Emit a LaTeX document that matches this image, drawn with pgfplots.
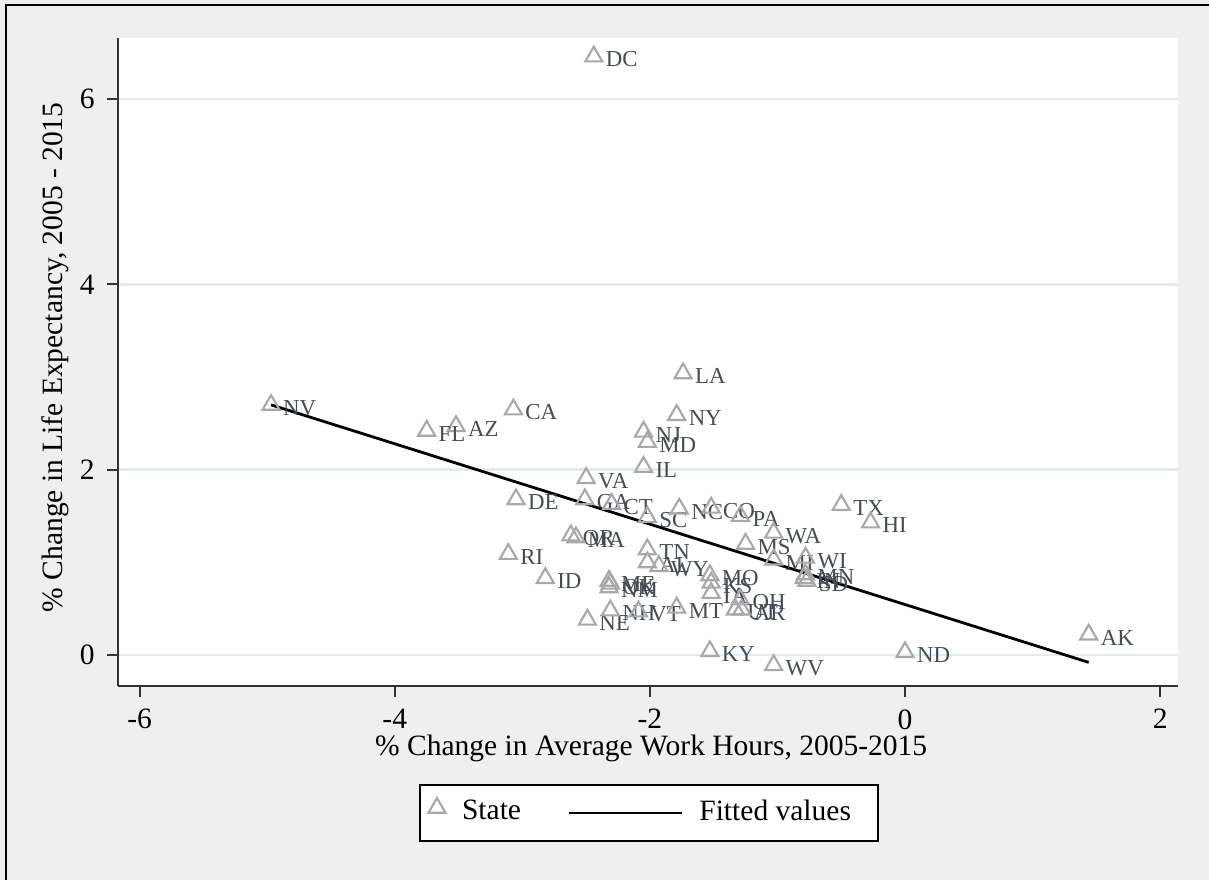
\documentclass[border=0pt]{standalone}
\usepackage{pgfplots}
\pgfplotsset{compat=1.18}
\usepackage{pgfplotstable}
\usepackage{fontspec}
\setmainfont{Liberation Serif}
\definecolor{bggray}{RGB}{239,239,239}
\definecolor{mkgray}{RGB}{168,168,168}
\definecolor{lblcol}{RGB}{70,76,86}
\definecolor{gridcol}{RGB}{226,236,240}
\definecolor{axcol}{RGB}{50,50,50}
\pgfplotstableread{
x y lab
-2.44 6.46 DC
-1.74 3.04 LA
-1.79 2.59 NY
-2.05 2.41 NJ
-2.02 2.30 MD
-2.05 2.03 IL
-4.97 2.70 NV
-3.07 2.65 CA
-3.52 2.47 AZ
-3.75 2.42 FL
-2.50 1.91 VA
-3.05 1.68 DE
-2.51 1.68 GA
-2.30 1.63 CT
-2.02 1.49 SC
-1.77 1.58 NC
-1.52 1.59 CO
-1.29 1.50 PA
-1.03 1.32 WA
-1.25 1.20 MS
-0.50 1.62 TX
-0.27 1.43 HI
-1.03 1.03 MI
-0.78 1.05 WI
-0.78 0.87 MN
-0.77 0.80 SD
-0.79 0.83 IN
1.44 0.22 AK
0.00 0.03 ND
-1.53 0.04 KY
-1.03 -0.11 WV
-3.11 1.09 RI
-2.82 0.83 ID
-2.49 0.38 NE
-2.31 0.48 NH
-2.09 0.47 VT
-1.79 0.51 MT
-2.02 1.14 TN
-2.02 1.00 AL
-1.93 0.96 WY
-2.32 0.80 ME
-2.32 0.73 NM
-2.31 0.77 OK
-2.62 1.29 OR
-2.58 1.27 MA
-1.53 0.86 MO
-1.52 0.78 KS
-1.52 0.67 IA
-1.29 0.60 OH
-1.33 0.49 UT
-1.28 0.49 AR
}\statedata
\pgfplotstableread{
x y
-4.97 2.70
1.44 -0.08
}\fitdata
\begin{document}
\begin{tikzpicture}[x=1cm,y=1cm]
\useasboundingbox (0,0) rectangle (12.09,8.80);
\fill[bggray] (0,0) rectangle (12.09,8.80);
\draw[black, line width=0.6pt] (0.06,0) -- (0.06,8.75) -- (12.09,8.75);
\begin{axis}[
  at={(1.18cm,1.94cm)}, anchor=south west,
  scale only axis, width=10.60cm, height=6.48cm,
  xmin=-6.17, xmax=2.14, ymin=-0.335, ymax=6.66,
  axis x line*=bottom, axis y line*=left,
  axis line style={axcol, line width=0.7pt},
  axis background/.style={fill=white},
  xtick={-6,-4,-2,0,2}, xticklabels={-6,-4,-2,0,2},
  ytick={0,2,4,6}, yticklabels={0,2,4,6},
  tick align=outside, major tick length=0.11cm,
  tick style={axcol, line width=0.6pt},
  ymajorgrids, grid style={gridcol, line width=0.7pt},
  every tick label/.append style={font=\fontsize{8.4}{10}\selectfont, text=black},
  xlabel={\% Change in Average Work Hours, 2005-2015},
  ylabel={\% Change in Life Expectancy, 2005 - 2015},
  label style={font=\fontsize{8.4}{10}\selectfont},
  xlabel style={at={(axis description cs:0.503,-0.0957)}, anchor=center},
  ylabel style={at={(axis description cs:-0.0594,0.507)}, anchor=center},
  legend style={at={(0.501,-0.151)}, anchor=north, draw=black, fill=white,
    line width=0.6pt, inner xsep=0.05cm, inner ysep=0.08cm,
    font=\fontsize{8.4}{10}\selectfont, legend columns=2,
    /tikz/every even column/.append style={column sep=0.40cm}},
  legend cell align=left,
  clip=false,
]
\addlegendimage{legend image code/.code={\path[draw=none,fill=none] (0cm,0cm) -- (0.30cm,0cm); \begin{scope}[shift={(0.12cm,0.05cm)}, draw=mkgray, line width=0.6pt]\pgfsetstrokecolor{mkgray}\pgfsetplotmarksize{2.8pt}\pgfuseplotmark{triangle}\end{scope}}}
\addlegendentry{State}
\addlegendimage{legend image code/.code={\path[draw=none,fill=none] (0cm,0cm) -- (1.23cm,0cm); \draw[black, line width=0.7pt] (0cm,0cm) -- (1.13cm,0cm);}}
\addlegendentry{Fitted values\rule{0.15cm}{0pt}}
\addplot[forget plot, only marks, mark=triangle, mark size=2.8pt, mkgray,
  mark options={line width=0.6pt},
  nodes near coords, point meta=explicit symbolic,
  nodes near coords style={anchor=west, inner sep=0pt, xshift=0.11cm, yshift=-0.03cm,
    font=\fontsize{6.5}{7}\selectfont, text=lblcol}]
  table[x=x, y=y, meta=lab] {\statedata};
\addplot[forget plot, black, line width=0.8pt, no marks] table[x=x, y=y] {\fitdata};
\end{axis}
\end{tikzpicture}
\end{document}
